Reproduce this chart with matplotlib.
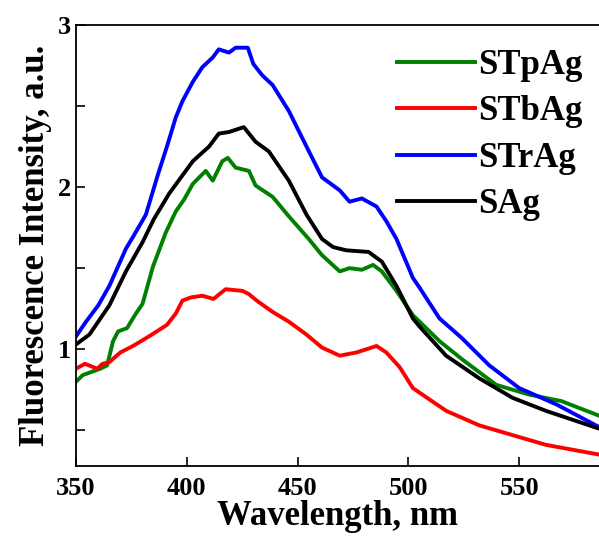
import matplotlib
matplotlib.use("Agg")
import matplotlib.pyplot as plt
from matplotlib.ticker import MultipleLocator

plt.rcParams['font.family'] = ['Liberation Serif', 'DejaVu Serif']
plt.rcParams['font.weight'] = 'bold'

# STrAg (blue)
wl_b = [350, 354.5, 360, 365, 372.5, 376, 381.5, 387, 391, 395, 398, 402.7, 407, 411.7, 414.4, 419, 422, 427.5,
        430, 434, 438.7, 446, 454, 461, 469, 473.4, 479, 485.6, 490, 494.6, 502, 505, 514, 524, 536.5, 550, 566.7, 586]
int_b = [1.08, 1.17, 1.27, 1.39, 1.62, 1.70, 1.83, 2.08, 2.25, 2.43, 2.53, 2.65, 2.74, 2.80, 2.85, 2.83, 2.86, 2.86,
         2.76, 2.69, 2.63, 2.47, 2.25, 2.06, 1.98, 1.91, 1.93, 1.88, 1.79, 1.68, 1.44, 1.38, 1.19, 1.07, 0.90, 0.76, 0.66, 0.52]

# SAg (black)
wl_k = [350, 356, 365, 372.5, 380, 385, 392, 402.7, 410, 414.4, 419, 425.7, 431, 433, 437, 446, 454, 461, 466, 472,
        482, 488, 494.6, 502, 505, 517, 532, 547, 562, 586]
int_k = [1.03, 1.09, 1.27, 1.48, 1.66, 1.80, 1.96, 2.16, 2.25, 2.33, 2.34, 2.37, 2.28, 2.26, 2.22, 2.04, 1.83, 1.68,
         1.63, 1.61, 1.60, 1.54, 1.39, 1.19, 1.14, 0.96, 0.82, 0.70, 0.62, 0.51]

# STpAg (green)
wl_g = [350, 353, 361, 364, 366.7, 369, 373, 377, 380, 384.7, 390.5, 395, 398.6, 402.7, 408.5, 411.7, 416, 418.5,
        422, 428, 431, 438.7, 446, 455, 461, 469, 473.4, 479, 484, 488, 494.6, 502, 505, 514, 524, 539.6, 554.5, 569, 586]
int_g = [0.80, 0.84, 0.88, 0.90, 1.05, 1.11, 1.13, 1.22, 1.28, 1.51, 1.72, 1.85, 1.92, 2.02, 2.10, 2.04, 2.16, 2.18,
         2.12, 2.10, 2.01, 1.94, 1.82, 1.68, 1.58, 1.48, 1.50, 1.49, 1.52, 1.48, 1.36, 1.21, 1.17, 1.05, 0.94, 0.78, 0.72, 0.68, 0.59]

# STbAg (red)
wl_r = [350, 354, 359.5, 362, 365, 370, 375.7, 383, 391, 395, 398, 402, 407, 412, 417.5, 425, 428, 431.5, 438.7,
        446, 454, 461, 469, 476.6, 485.6, 490, 496, 502, 517, 532, 547, 562, 586]
int_r = [0.88, 0.91, 0.88, 0.91, 0.92, 0.98, 1.02, 1.08, 1.15, 1.22, 1.30, 1.32, 1.33, 1.31, 1.37, 1.36, 1.34, 1.30,
         1.23, 1.17, 1.09, 1.01, 0.96, 0.98, 1.02, 0.98, 0.89, 0.76, 0.62, 0.53, 0.47, 0.41, 0.35]

fig = plt.figure(figsize=(5.99, 5.38), dpi=100)
ax = fig.add_axes([0.127, 0.134, 0.873, 0.8195])

lw = 2.8
ax.plot(wl_g, int_g, color='#008000', lw=lw, label='STpAg')
ax.plot(wl_r, int_r, color='#ff0000', lw=lw, label='STbAg')
ax.plot(wl_b, int_b, color='#0000ff', lw=lw, label='STrAg')
ax.plot(wl_k, int_k, color='#000000', lw=lw, label='SAg')

ax.set_xlim(350, 586)
ax.set_ylim(0.28, 3.0)
ax.xaxis.set_major_locator(MultipleLocator(50))
ax.yaxis.set_major_locator(MultipleLocator(1))
ax.yaxis.set_minor_locator(MultipleLocator(0.5))
ax.tick_params(which='both', direction='in', length=6.5, width=1.2, labelsize=19)
ax.tick_params(axis='x', pad=8)
ax.spines['right'].set_visible(False)
for s in ['left', 'bottom', 'top']:
    ax.spines[s].set_linewidth(1.3)

ax.set_xlabel('Wavelength, nm', fontsize=25, fontweight='bold', labelpad=0)
ax.set_ylabel('Fluorescence Intensity, a.u.', fontsize=25, fontweight='bold', labelpad=4)

leg = ax.legend(loc='upper left', bbox_to_anchor=(0.613, 0.945), frameon=False, fontsize=25,
                handlelength=2.25, handletextpad=0.1, labelspacing=0.38, borderaxespad=0, borderpad=0)

fig.savefig('out.png', dpi=100)
